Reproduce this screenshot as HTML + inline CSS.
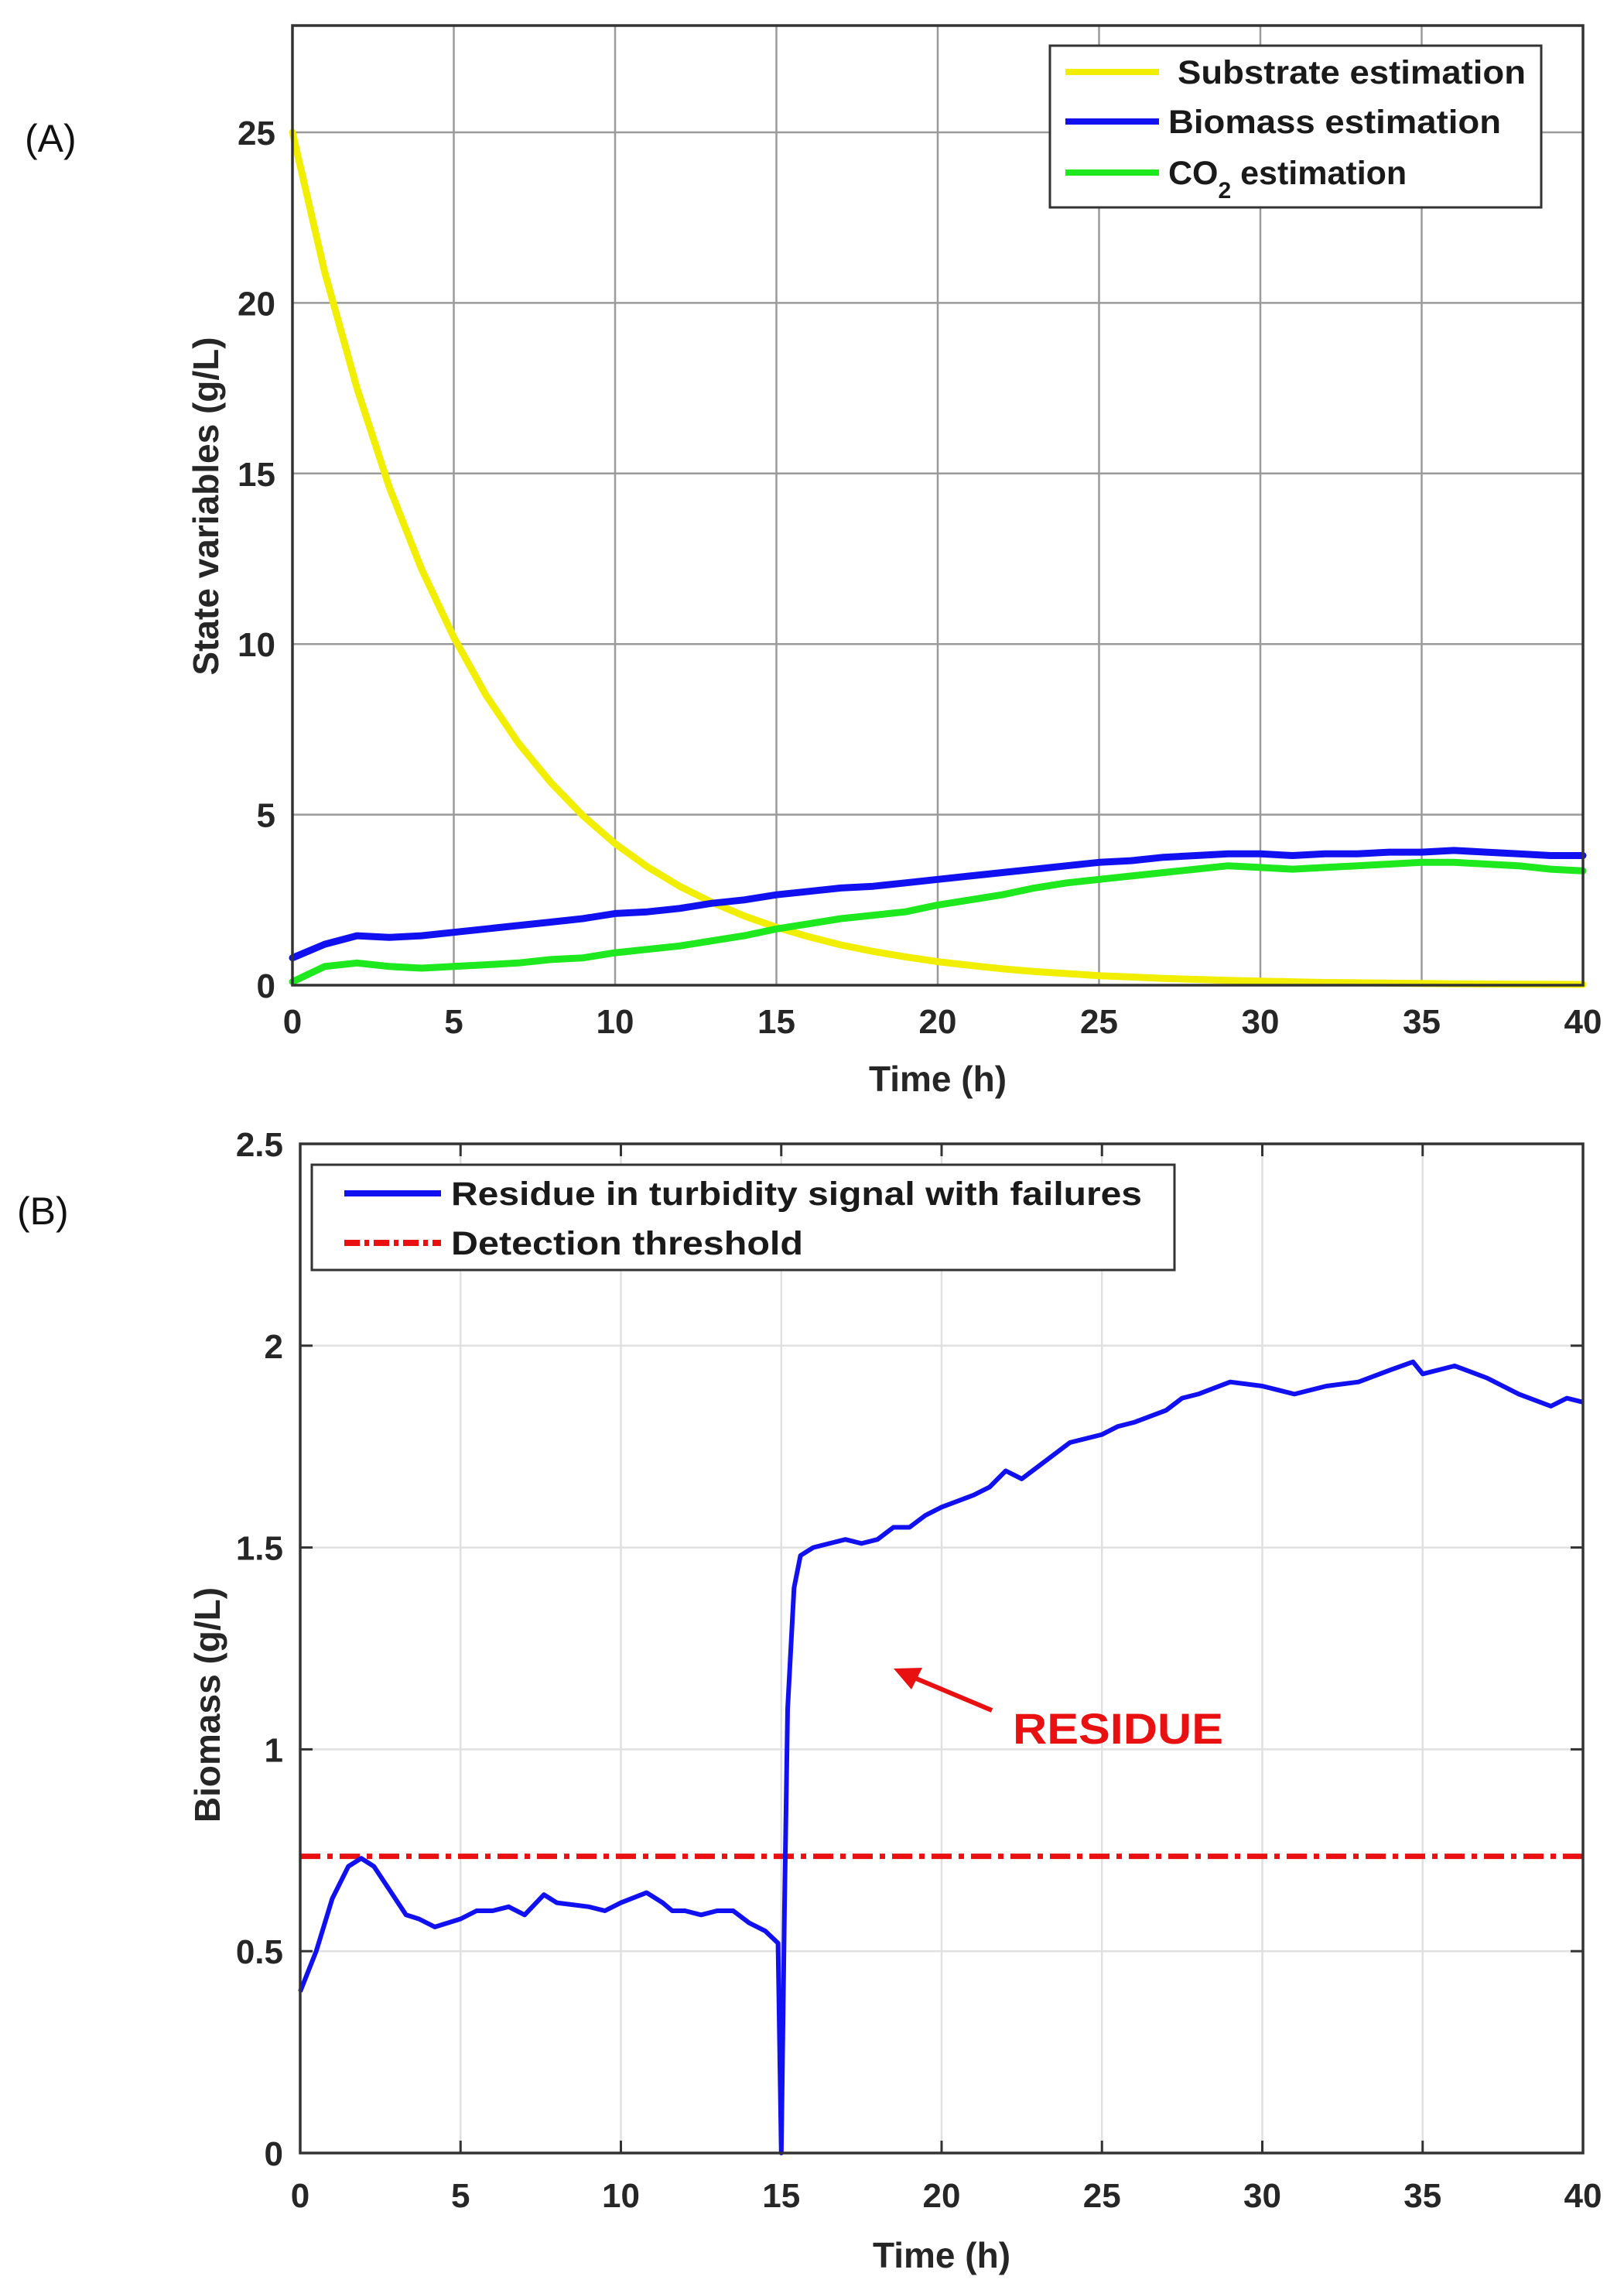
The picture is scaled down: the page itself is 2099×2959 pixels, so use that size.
<!DOCTYPE html>
<html><head><meta charset="utf-8">
<style>
html,body{margin:0;padding:0;background:#fff;}
svg{display:block;}
text{font-family:"Liberation Sans",Arial,sans-serif;}
</style></head>
<body>
<svg id="fig" width="2099" height="2959" viewBox="0 0 2099 2959" xmlns="http://www.w3.org/2000/svg">
<rect x="0" y="0" width="2099" height="2959" fill="#fff"/>
</svg>
<script>
// ---------- Panel A data ----------
const timeA = [0,1,2,3,4,5,6,7,8,9,10,11,12,13,14,15,16,17,18,19,20,21,22,23,24,25,26,27,28,29,30,31,32,33,34,35,36,37,38,39,40];
const substrate = [25,20.9,17.5,14.6,12.2,10.2,8.5,7.1,5.95,4.97,4.15,3.47,2.9,2.43,2.03,1.7,1.42,1.18,0.99,0.83,0.69,0.58,0.48,0.40,0.34,0.28,0.24,0.2,0.17,0.14,0.12,0.1,0.08,0.07,0.06,0.05,0.04,0.035,0.03,0.025,0.02];
const biomassA = [0.8,1.2,1.45,1.4,1.45,1.55,1.65,1.75,1.85,1.95,2.1,2.15,2.25,2.4,2.5,2.65,2.75,2.85,2.9,3.0,3.1,3.2,3.3,3.4,3.5,3.6,3.65,3.75,3.8,3.85,3.85,3.8,3.85,3.85,3.9,3.9,3.95,3.9,3.85,3.8,3.8];
const co2A = [0.1,0.55,0.65,0.55,0.5,0.55,0.6,0.65,0.75,0.8,0.95,1.05,1.15,1.3,1.45,1.65,1.8,1.95,2.05,2.15,2.35,2.5,2.65,2.85,3.0,3.1,3.2,3.3,3.4,3.5,3.45,3.4,3.45,3.5,3.55,3.6,3.6,3.55,3.5,3.4,3.35];
const xTicksA = [0,5,10,15,20,25,30,35,40];
const yTicksA = [0,5,10,15,20,25];
// ---------- Panel B data ----------
const timeB = [0,0.5,1,1.5,1.9,2.3,2.8,3.3,3.7,4.2,5,5.5,6,6.5,7,7.6,8,9,9.5,10,10.8,11.3,11.6,12,12.5,13,13.5,14,14.5,14.9,15.0,15.1,15.2,15.4,15.6,16,16.5,17,17.5,18,18.5,19,19.5,20,21,21.5,22,22.5,23,24,25,25.5,26,27,27.5,28,29,30,31,32,33,34,34.7,35,35.5,36,37,38,39,39.5,40];
const residue = [0.4,0.5,0.63,0.71,0.73,0.71,0.65,0.59,0.58,0.56,0.58,0.6,0.6,0.61,0.59,0.64,0.62,0.61,0.6,0.62,0.645,0.62,0.6,0.6,0.59,0.6,0.6,0.57,0.55,0.52,0.0,0.6,1.1,1.4,1.48,1.5,1.51,1.52,1.51,1.52,1.55,1.55,1.58,1.6,1.63,1.65,1.69,1.67,1.7,1.76,1.78,1.8,1.81,1.84,1.87,1.88,1.91,1.9,1.88,1.9,1.91,1.94,1.96,1.93,1.94,1.95,1.92,1.88,1.85,1.87,1.86];
const threshold = [0.735];
const xTicksB = [0,5,10,15,20,25,30,35,40];
const yTicksB = [0,0.5,1,1.5,2,2.5];
const yTickLabelsB = ["0","0.5","1","1.5","2","2.5"];

const NS = "http://www.w3.org/2000/svg";
const svg = document.getElementById('fig');
function mk(tag, attrs, parent){
  const e = document.createElementNS(NS, tag);
  for (const k in attrs) e.setAttribute(k, attrs[k]);
  (parent||svg).appendChild(e);
  return e;
}

const A = {l:378, r:2046, t:33, b:1273, xmax:40, ymax:28.13};
const xA = v => A.l + v/A.xmax*(A.r-A.l);
const yA = v => A.b - v/A.ymax*(A.b-A.t);
const B = {l:388, r:2046, t:1478, b:2782, xmax:40, ymax:2.5};
const xB = v => B.l + v/B.xmax*(B.r-B.l);
const yB = v => B.b - v/B.ymax*(B.b-B.t);

// ---------- Panel A ----------
const gA = mk('g', {});


xTicksA.forEach(v => {
  const ln = mk('line', {x1:xA(v), x2:xA(v), y1:A.t, y2:A.b, stroke:'#9a9a9a', 'stroke-width':2.5}, gA);
  
  
  const tk = mk('text', {x:xA(v), y:A.b+62, 'text-anchor':'middle', 'font-size':44, 'font-weight':'bold', fill:'#262626'}, gA);
  tk.textContent = v;
  
  
});
yTicksA.forEach(v => {
  const ln = mk('line', {x1:A.l, x2:A.r, y1:yA(v), y2:yA(v), stroke:'#9a9a9a', 'stroke-width':2.5}, gA);
  
  
  const tk = mk('text', {x:A.l-22, y:yA(v)+16, 'text-anchor':'end', 'font-size':44, 'font-weight':'bold', fill:'#262626'}, gA);
  tk.textContent = v;
  
  
});
function seriesA(arr, color, name){
  const pts = timeA.map((t,i)=> xA(t).toFixed(1)+','+yA(arr[i]).toFixed(1)).join(' ');
  const p = mk('polyline', {points:pts, fill:'none', stroke:color, 'stroke-width':9, 'stroke-linejoin':'round', 'stroke-linecap':'round'}, gA);
  
  
}
seriesA(substrate, '#f2ee00', 'substrate-line');
seriesA(co2A, '#1ee81e', 'co2-line');
seriesA(biomassA, '#1010f0', 'biomass-line');
const frA = mk('rect', {x:A.l, y:A.t, width:A.r-A.l, height:A.b-A.t, fill:'none', stroke:'#333', 'stroke-width':3.5}, gA);



const lgA = mk('g', {}, gA);


mk('rect', {x:1357, y:59, width:635, height:209, fill:'#fff', stroke:'#333', 'stroke-width':3}, lgA);
const legA = [
  {c:'#f2ee00', t:'Substrate estimation', y:93, x:1522, w:450, n:'legend-entry-substrate'},
  {c:'#1010f0', t:'Biomass estimation', y:157, x:1510, w:430, n:'legend-entry-biomass'},
  {c:'#1ee81e', t:'CO', y:223, x:1510, w:0, n:'legend-entry-co2'}
];
legA.forEach(e => {
  const g = mk('g', {}, lgA);
  
  
  mk('line', {x1:1377, x2:1498, y1:e.y, y2:e.y, stroke:e.c, 'stroke-width':8}, g);
  if (e.w) {
    const t = mk('text', {x:e.x, y:e.y+15, 'font-size':43, 'font-weight':'bold', fill:'#1a1a1a', textLength:e.w, lengthAdjust:'spacingAndGlyphs'}, g);
    t.textContent = e.t;
  } else {
    const t = mk('text', {x:e.x, y:e.y+15, 'font-size':43, 'font-weight':'bold', fill:'#1a1a1a'}, g);
    t.textContent = 'CO';
    const s = mk('tspan', {dy:18, 'font-size':30}, t); s.textContent = '2';
    const r = mk('tspan', {dy:-18, 'font-size':43}, t); r.textContent = ' estimation';
  }
});

const xtA = mk('text', {x:(A.l+A.r)/2, y:1410, 'text-anchor':'middle', 'font-size':46, 'font-weight':'bold', fill:'#262626'}, gA);
xtA.textContent = 'Time (h)';


const ytA = mk('text', {x:0, y:0, 'text-anchor':'middle', 'font-size':46, 'font-weight':'bold', fill:'#262626', transform:'translate(282,654) rotate(-90)'}, gA);
ytA.textContent = 'State variables (g/L)';


const labA = mk('text', {x:32, y:196, 'font-size':50, fill:'#111'}, gA);
labA.textContent = '(A)';



// ---------- Panel B ----------
const gB = mk('g', {});


xTicksB.forEach(v => {
  const ln = mk('line', {x1:xB(v), x2:xB(v), y1:B.t, y2:B.b, stroke:'#e0e0e0', 'stroke-width':2.5}, gB);
  
  
  const tm = mk('line', {x1:xB(v), x2:xB(v), y1:B.b, y2:B.b-16, stroke:'#333', 'stroke-width':3}, gB);
  
  
  const tm2 = mk('line', {x1:xB(v), x2:xB(v), y1:B.t, y2:B.t+16, stroke:'#333', 'stroke-width':3}, gB);
  
  
  const tk = mk('text', {x:xB(v), y:B.b+70, 'text-anchor':'middle', 'font-size':44, 'font-weight':'bold', fill:'#262626'}, gB);
  tk.textContent = v;
  
  
});
yTicksB.forEach((v,i) => {
  const ln = mk('line', {x1:B.l, x2:B.r, y1:yB(v), y2:yB(v), stroke:'#e0e0e0', 'stroke-width':2.5}, gB);
  
  
  const tm = mk('line', {x1:B.l, x2:B.l+16, y1:yB(v), y2:yB(v), stroke:'#333', 'stroke-width':3}, gB);
  
  
  const tm2 = mk('line', {x1:B.r, x2:B.r-16, y1:yB(v), y2:yB(v), stroke:'#333', 'stroke-width':3}, gB);
  
  
  const tk = mk('text', {x:B.l-22, y:yB(v)+16, 'text-anchor':'end', 'font-size':44, 'font-weight':'bold', fill:'#262626'}, gB);
  tk.textContent = yTickLabelsB[i];
  
  
});
const thr = mk('line', {x1:B.l, x2:B.r, y1:yB(threshold[0]), y2:yB(threshold[0]), stroke:'#e81010', 'stroke-width':7, 'stroke-dasharray':'26 9 7 9'}, gB);


const rpts = timeB.map((t,i)=> xB(t).toFixed(1)+','+yB(residue[i]).toFixed(1)).join(' ');
const rl = mk('polyline', {points:rpts, fill:'none', stroke:'#1010f0', 'stroke-width':6, 'stroke-linejoin':'round'}, gB);


const frB = mk('rect', {x:B.l, y:B.t, width:B.r-B.l, height:B.b-B.t, fill:'none', stroke:'#333', 'stroke-width':3.5}, gB);



const lgB = mk('g', {}, gB);


mk('rect', {x:403, y:1505, width:1115, height:136, fill:'#fff', stroke:'#333', 'stroke-width':3}, lgB);
const le1 = mk('g', {}, lgB);


mk('line', {x1:445, x2:570, y1:1542, y2:1542, stroke:'#1010f0', 'stroke-width':8}, le1);
const lt1 = mk('text', {x:583, y:1557, 'font-size':43, 'font-weight':'bold', fill:'#1a1a1a', textLength:893, lengthAdjust:'spacingAndGlyphs'}, le1);
lt1.textContent = 'Residue in turbidity signal with failures';
const le2 = mk('g', {}, lgB);


mk('line', {x1:445, x2:570, y1:1606, y2:1606, stroke:'#e81010', 'stroke-width':8, 'stroke-dasharray':'20 6 6 6'}, le2);
const lt2 = mk('text', {x:583, y:1621, 'font-size':43, 'font-weight':'bold', fill:'#1a1a1a', textLength:455, lengthAdjust:'spacingAndGlyphs'}, le2);
lt2.textContent = 'Detection threshold';

const ann = mk('g', {}, gB);


mk('line', {x1:1282, x2:1170, y1:2210, y2:2163, stroke:'#e81010', 'stroke-width':6}, ann);
mk('polygon', {points:'1155,2156 1192,2155 1178,2183', fill:'#e81010'}, ann);
const at = mk('text', {x:1309, y:2253, 'font-size':56, 'font-weight':'bold', fill:'#e81010', textLength:272, lengthAdjust:'spacingAndGlyphs'}, ann);
at.textContent = 'RESIDUE';

const xtB = mk('text', {x:(B.l+B.r)/2, y:2930, 'text-anchor':'middle', 'font-size':46, 'font-weight':'bold', fill:'#262626'}, gB);
xtB.textContent = 'Time (h)';


const ytB = mk('text', {x:0, y:0, 'text-anchor':'middle', 'font-size':46, 'font-weight':'bold', fill:'#262626', transform:'translate(284,2203) rotate(-90)'}, gB);
ytB.textContent = 'Biomass (g/L)';


const labB = mk('text', {x:22, y:1582, 'font-size':50, fill:'#111'}, gB);
labB.textContent = '(B)';


</script>
</body></html>
